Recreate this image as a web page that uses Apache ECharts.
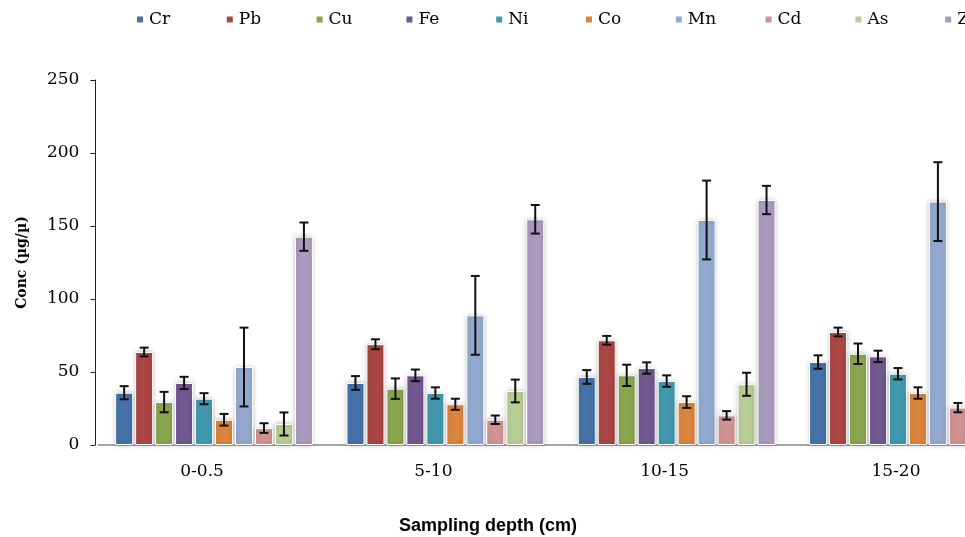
<!DOCTYPE html>
<html>
<head>
<meta charset="utf-8">
<script src="https://cdn.jsdelivr.net/npm/echarts@6/dist/echarts.min.js"></script>
<style>
  html, body { margin: 0; padding: 0; background: #fff; }
  #chart { width: 965px; height: 537px; }
</style>
</head>
<body>
<div id="chart"></div>
<script>
// sampling depths
const depths = ['0-0.5', '5-10', '10-15', '15-20']
const metals = ['Cr', 'Pb', 'Cu', 'Fe', 'Ni', 'Co', 'Mn', 'Cd', 'As', 'Zn']
const yTicks = [0, 50, 100, 150, 200, 250]

// mean concentrations per metal, one value per depth
const Cr = [35.8, 42.5, 46.6, 56.8]
const Pb = [63.7, 69.0, 71.7, 77.4]
const Cu = [29.4, 38.6, 47.7, 62.5]
const Fe = [42.5, 47.7, 52.7, 60.7]
const Ni = [31.7, 35.6, 43.8, 48.8]
const Co = [17.3, 27.9, 29.4, 35.6]
const Mn = [53.4, 88.8, 154.1, 166.7]
const Cd = [11.6, 17.3, 20.3, 25.6]
const As = [14.4, 37.0, 41.6, 45.0]
const Zn = [142.7, 154.6, 167.8, 172.0]

// standard deviations (error bars)
const CrErr = [4.5, 4.7, 4.7, 4.6]
const PbErr = [3.0, 3.4, 3.0, 3.0]
const CuErr = [7.0, 7.0, 7.3, 7.0]
const FeErr = [4.2, 4.0, 3.9, 3.9]
const NiErr = [3.8, 3.9, 3.9, 3.9]
const CoErr = [4.0, 3.8, 4.0, 3.9]
const MnErr = [27.0, 27.0, 27.0, 27.0]
const CdErr = [3.3, 2.9, 2.9, 3.2]
const AsErr = [7.9, 7.8, 7.9, 7.9]
const ZnErr = [9.7, 9.8, 9.7, 9.7]

const means = [Cr, Pb, Cu, Fe, Ni, Co, Mn, Cd, As, Zn]
const errs = [CrErr, PbErr, CuErr, FeErr, NiErr, CoErr, MnErr, CdErr, AsErr, ZnErr]
const colors = ['#4572a7', '#aa4643', '#89a54e', '#71588f', '#4198af', '#db843d', '#93a9cf', '#d19392', '#b9cd96', '#a99bbd']

const catGap = 0.145   // barCategoryGap
const barGap = 0.11    // gap between bars, relative to bar width

const serif = 'DejaVu Serif'

const chart = echarts.init(document.getElementById('chart'))

const barSeries = metals.map((m, i) => ({
  name: m,
  type: 'bar',
  data: means[i],
  barGap: (barGap * 100) + '%',
  barCategoryGap: (catGap * 100) + '%',
  itemStyle: {
    color: colors[i],
    borderColor: '#fff',
    borderWidth: 1,
    shadowBlur: 5,
    shadowColor: 'rgba(0,0,0,0.25)'
  },
  emphasis: { disabled: true }
}))

const errData = []
metals.forEach((m, i) => {
  depths.forEach((d, c) => {
    errData.push([c, i, means[i][c] - errs[i][c], means[i][c] + errs[i][c]])
  })
})

const errSeries = {
  name: 'err',
  type: 'custom',
  z: 10,
  data: errData,
  renderItem: (params, api) => {
    const c = api.value(0)
    const i = api.value(1)
    const band = api.size([1, 0])[0]
    const n = metals.length
    const w = band * (1 - catGap) / (n + (n - 1) * barGap)
    const cx = api.coord([c, 0])[0] + (i - (n - 1) / 2) * w * (1 + barGap)
    const lo = api.coord([c, api.value(2)])[1]
    const hi = api.coord([c, api.value(3)])[1]
    const cap = 4.5
    const style = { stroke: '#111', lineWidth: 2 }
    return {
      type: 'group',
      children: [
        { type: 'line', shape: { x1: cx, y1: lo, x2: cx, y2: hi }, style },
        { type: 'line', shape: { x1: cx - cap, y1: lo, x2: cx + cap, y2: lo }, style },
        { type: 'line', shape: { x1: cx - cap, y1: hi, x2: cx + cap, y2: hi }, style }
      ]
    }
  }
}

// one legend per item so the entries sit on an even pitch like the Excel legend
const legends = metals.map((m, i) => ({
  data: [m],
  left: 135 + i * 89.8,
  top: 11,
  padding: 0,
  itemWidth: 8,
  itemHeight: 8,
  itemTextGap: 7,
  icon: 'rect',
  selectedMode: false,
  textStyle: { fontFamily: serif, fontSize: 17, color: '#000' }
}))

const option = {
  animation: false,
  backgroundColor: '#fff',
  title: {
    text: 'Sampling depth (cm)',
    left: 399,
    top: 517,
    padding: 0,
    textStyle: { fontFamily: 'Liberation Sans', fontWeight: 'bold', fontSize: 18, color: '#000' }
  },
  legend: legends,
  grid: {
    left: 98.4,
    right: -58.6,
    top: 80,
    bottom: 92,
    outerBoundsMode: 'none',
    containLabel: false
  },
  xAxis: {
    type: 'category',
    data: depths,
    axisLine: { lineStyle: { color: '#868686', width: 1.5 } },
    axisTick: { show: false },
    axisLabel: {
      margin: 18,
      padding: [0, 24, 0, 0],
      fontFamily: serif,
      fontSize: 17,
      color: '#000'
    }
  },
  yAxis: {
    type: 'value',
    min: yTicks[0],
    max: yTicks[yTicks.length - 1],
    interval: 50,
    offset: 3,
    name: 'Conc (µg/µ)',
    nameLocation: 'middle',
    nameGap: 66,
    nameTextStyle: { fontFamily: serif, fontWeight: 'bold', fontSize: 14, color: '#000' },
    axisLine: { show: true, lineStyle: { color: '#222', width: 1 } },
    axisTick: { show: true, length: 5, lineStyle: { color: '#222' } },
    splitLine: { show: false },
    axisLabel: {
      margin: 16,
      fontFamily: serif,
      fontSize: 17,
      color: '#000'
    }
  },
  series: [...barSeries, errSeries]
}

chart.setOption(option)
</script>
</body>
</html>
